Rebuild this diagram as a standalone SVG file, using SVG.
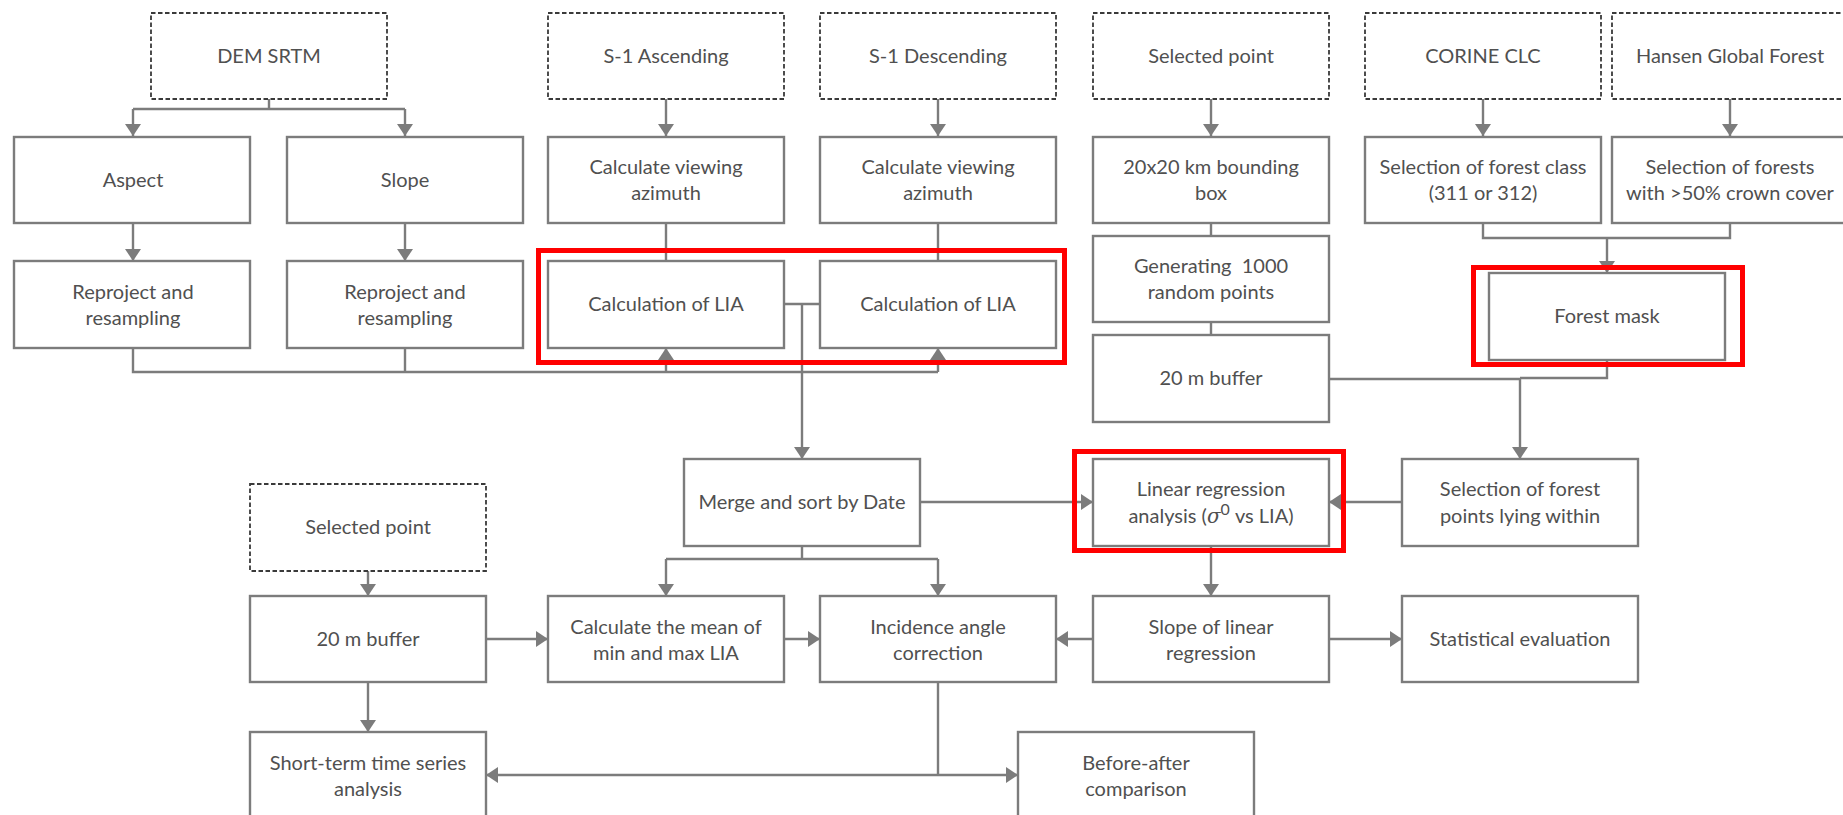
<svg xmlns="http://www.w3.org/2000/svg" width="1843" height="815" viewBox="0 0 1843 815">
<defs>
<style>
.b{fill:#fff;stroke:#7c7c7c;stroke-width:2.4}
.d{fill:#fff;stroke:#3a3a3a;stroke-width:1.8;stroke-dasharray:4.5 2.5}
.t{font-family:Lato,"Open Sans","Liberation Sans",sans-serif;font-size:20px;fill:#505050;text-anchor:middle}
.c{fill:none;stroke:#7c7c7c;stroke-width:2.4}
.a{marker-end:url(#ah)}
.hl{fill:none;stroke:#ff0000;stroke-width:5}
</style>
<marker id="ah" markerUnits="userSpaceOnUse" markerWidth="12" markerHeight="16" refX="12" refY="8" orient="auto">
<path d="M0,0 L12,8 L0,16 z" fill="#7c7c7c"/>
</marker>
</defs>
<rect width="1843" height="815" fill="#fff"/>

<g id="connectors">
<path class="c" d="M269,99 V109 M133,109 H405"/>
<path class="c a" d="M133,109 V136"/>
<path class="c a" d="M405,109 V136"/>
<path class="c a" d="M133,223 V261"/>
<path class="c a" d="M405,223 V261"/>
<path class="c" d="M133,348 V372 H938 M405,348 V372"/>
<path class="c a" d="M666,372 V348"/>
<path class="c a" d="M938,372 V348"/>
<path class="c a" d="M666,99 V136"/>
<path class="c a" d="M938,99 V136"/>
<path class="c" d="M666,223 V261 M938,223 V261"/>
<path class="c" d="M784,304 H820"/>
<path class="c a" d="M802,304 V459"/>
<path class="c a" d="M1211,99 V136"/>
<path class="c" d="M1211,223 V236 M1211,322 V335"/>
<path class="c a" d="M1483,99 V136"/>
<path class="c a" d="M1730,99 V136"/>
<path class="c" d="M1483,223 V238 H1730 V223"/>
<path class="c a" d="M1607,238 V273"/>
<path class="c" d="M1329,379 H1520 M1607,360 V378 H1520"/>
<path class="c a" d="M1520,378 V459"/>
<path class="c a" d="M920,502 H1093"/>
<path class="c a" d="M1402,502 H1329"/>
<path class="c a" d="M1211,546 V596"/>
<path class="c" d="M802,546 V559 M666,559 H938"/>
<path class="c a" d="M666,559 V596"/>
<path class="c a" d="M938,559 V596"/>
<path class="c a" d="M368,571 V596"/>
<path class="c a" d="M486,639 H548"/>
<path class="c a" d="M784,639 H820"/>
<path class="c a" d="M1093,639 H1056"/>
<path class="c a" d="M1329,639 H1402"/>
<path class="c a" d="M368,682 V732"/>
<path class="c" d="M938,682 V775"/>
<path class="c a" d="M938,775 H486"/>
<path class="c a" d="M938,775 H1018"/>
</g>

<g id="n-dem"><rect class="d" x="151" y="13" width="236" height="86"/><text class="t" x="269" y="63">DEM SRTM</text></g>
<g id="n-s1asc"><rect class="d" x="548" y="13" width="236" height="86"/><text class="t" x="666" y="63">S-1 Ascending</text></g>
<g id="n-s1desc"><rect class="d" x="820" y="13" width="236" height="86"/><text class="t" x="938" y="63">S-1 Descending</text></g>
<g id="n-selpt"><rect class="d" x="1093" y="13" width="236" height="86"/><text class="t" x="1211" y="63">Selected point</text></g>
<g id="n-corine"><rect class="d" x="1365" y="13" width="236" height="86"/><text class="t" x="1483" y="63">CORINE CLC</text></g>
<g id="n-hansen"><rect class="d" x="1612" y="13" width="236" height="86"/><text class="t" x="1730" y="63">Hansen Global Forest</text></g>

<g id="n-aspect"><rect class="b" x="14" y="137" width="236" height="86"/><text class="t" x="133" y="187">Aspect</text></g>
<g id="n-slope"><rect class="b" x="287" y="137" width="236" height="86"/><text class="t" x="405" y="187">Slope</text></g>
<g id="n-az1"><rect class="b" x="548" y="137" width="236" height="86"/><text class="t" x="666" y="174">Calculate viewing</text><text class="t" x="666" y="200">azimuth</text></g>
<g id="n-az2"><rect class="b" x="820" y="137" width="236" height="86"/><text class="t" x="938" y="174">Calculate viewing</text><text class="t" x="938" y="200">azimuth</text></g>
<g id="n-bbox"><rect class="b" x="1093" y="137" width="236" height="86"/><text class="t" x="1211" y="174">20x20 km bounding</text><text class="t" x="1211" y="200">box</text></g>
<g id="n-selclass"><rect class="b" x="1365" y="137" width="236" height="86"/><text class="t" x="1483" y="174">Selection of forest class</text><text class="t" x="1483" y="200">(311 or 312)</text></g>
<g id="n-selforests"><rect class="b" x="1612" y="137" width="236" height="86"/><text class="t" x="1730" y="174">Selection of forests</text><text class="t" x="1730" y="200">with &gt;50% crown cover</text></g>

<g id="n-rep1"><rect class="b" x="14" y="261" width="236" height="87"/><text class="t" x="133" y="299">Reproject and</text><text class="t" x="133" y="325">resampling</text></g>
<g id="n-rep2"><rect class="b" x="287" y="261" width="236" height="87"/><text class="t" x="405" y="299">Reproject and</text><text class="t" x="405" y="325">resampling</text></g>
<g id="n-lia1"><rect class="b" x="548" y="261" width="236" height="87"/><text class="t" x="666" y="311">Calculation of LIA</text></g>
<g id="n-lia2"><rect class="b" x="820" y="261" width="236" height="87"/><text class="t" x="938" y="311">Calculation of LIA</text></g>
<g id="n-gen"><rect class="b" x="1093" y="236" width="236" height="86"/><text class="t" x="1211" y="273" xml:space="preserve">Generating  1000</text><text class="t" x="1211" y="299">random points</text></g>
<g id="n-buf1"><rect class="b" x="1093" y="335" width="236" height="87"/><text class="t" x="1211" y="385">20 m buffer</text></g>
<g id="n-mask"><rect class="b" x="1489" y="273" width="236" height="87"/><text class="t" x="1607" y="323">Forest mask</text></g>

<g id="n-merge"><rect class="b" x="684" y="459" width="236" height="87"/><text class="t" x="802" y="509">Merge and sort by Date</text></g>
<g id="n-linreg"><rect class="b" x="1093" y="459" width="236" height="87"/><text class="t" x="1211" y="496">Linear regression</text><text class="t" x="1211" y="523">analysis (<tspan font-family="'DejaVu Serif','Liberation Serif',serif" font-style="italic">σ</tspan><tspan font-size="16" dy="-8">0</tspan><tspan dy="8"> vs LIA)</tspan></text></g>
<g id="n-selpoints"><rect class="b" x="1402" y="459" width="236" height="87"/><text class="t" x="1520" y="496">Selection of forest</text><text class="t" x="1520" y="523">points lying within</text></g>
<g id="n-selpt2"><rect class="d" x="250" y="484" width="236" height="87"/><text class="t" x="368" y="534">Selected point</text></g>

<g id="n-buf2"><rect class="b" x="250" y="596" width="236" height="86"/><text class="t" x="368" y="646">20 m buffer</text></g>
<g id="n-mean"><rect class="b" x="548" y="596" width="236" height="86"/><text class="t" x="666" y="634">Calculate the mean of</text><text class="t" x="666" y="660">min and max LIA</text></g>
<g id="n-inc"><rect class="b" x="820" y="596" width="236" height="86"/><text class="t" x="938" y="634">Incidence angle</text><text class="t" x="938" y="660">correction</text></g>
<g id="n-slopelr"><rect class="b" x="1093" y="596" width="236" height="86"/><text class="t" x="1211" y="634">Slope of linear</text><text class="t" x="1211" y="660">regression</text></g>
<g id="n-stat"><rect class="b" x="1402" y="596" width="236" height="86"/><text class="t" x="1520" y="646">Statistical evaluation</text></g>

<g id="n-short"><rect class="b" x="250" y="732" width="236" height="90"/><text class="t" x="368" y="770">Short-term time series</text><text class="t" x="368" y="796">analysis</text></g>
<g id="n-before"><rect class="b" x="1018" y="732" width="236" height="90"/><text class="t" x="1136" y="770">Before-after</text><text class="t" x="1136" y="796">comparison</text></g>

<g id="highlights">
<rect class="hl" x="538.5" y="250.5" width="526" height="112"/>
<rect class="hl" x="1473.5" y="267.5" width="269" height="97"/>
<rect class="hl" x="1074.5" y="451.5" width="269" height="99"/>
</g>
</svg>
